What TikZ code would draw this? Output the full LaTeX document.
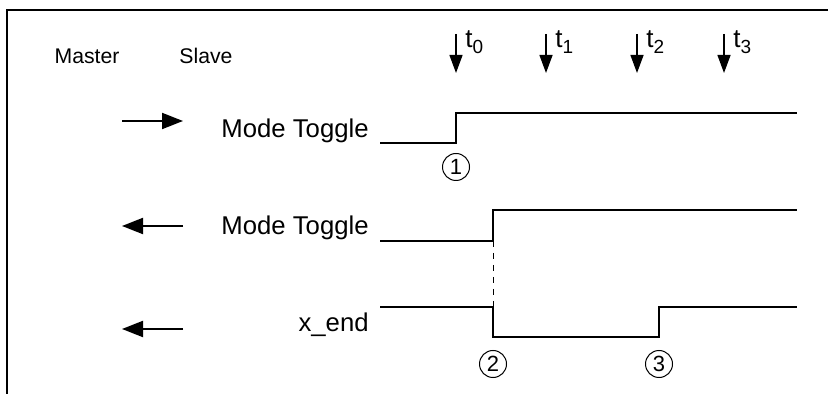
\documentclass[tikz,border=0pt]{standalone}
\usepackage{fontspec}
\setmainfont{Liberation Sans}
\usetikzlibrary{arrows.meta}

\tikzset{
    signal/.style={line width=1.35pt},
    dirarrow/.style={line width=1pt, -{Triangle[length=10.5pt, width=8pt]}},
    timearrow/.style={line width=0.65pt, -{Triangle[length=9pt, width=6.5pt]}},
    marker/.style={circle, draw, line width=0.5pt, minimum size=13.5pt, inner sep=0pt, font=\fontsize{11}{13}\selectfont},
    siglabel/.style={anchor=base east, inner sep=0pt, font=\fontsize{12.85}{15}\selectfont}
}

\begin{document}
\begin{tikzpicture}[x=0.5pt, y=-0.5pt]
    \useasboundingbox (0,0) rectangle (828,394);
    \draw[line width=0.65pt] (7,394) -- (7,10) -- (828,10);

    \node[font=\fontsize{10.6}{12}\selectfont] (master) at (87,56) {Master};
    \node[font=\fontsize{10.6}{12}\selectfont] (slave) at (206,56) {Slave};

    \foreach \i/\x in {0/456, 1/546, 2/637, 3/724} {
        \coordinate (ttop\i) at (\x,34);
        \coordinate (tbot\i) at (\x,73);
        \draw[timearrow] (ttop\i) -- (tbot\i);
        \node[anchor=base west, inner sep=0pt, font=\fontsize{13}{15}\selectfont] (tlab\i) at (\x+9,48) {t\raisebox{-3pt}{\fontsize{9.5}{11}\selectfont\i}};
    }

    \coordinate (ma1) at (122,121); \coordinate (sl1) at (183,121);
    \coordinate (ma2) at (122,226); \coordinate (sl2) at (183,226);
    \coordinate (ma3) at (122,329); \coordinate (sl3) at (183,329);
    \draw[dirarrow] (ma1) -- (sl1);
    \draw[dirarrow] (sl2) -- (ma2);
    \draw[dirarrow] (sl3) -- (ma3);

    \node[siglabel] (modeout) at (369,138) {Mode Toggle};
    \node[siglabel] (modein) at (369,235) {Mode Toggle};
    \node[siglabel] (xend) at (369,332) {x\_end};

    \coordinate (mo0) at (380,143); \coordinate (mo1) at (456,143);
    \coordinate (mo2) at (456,113); \coordinate (mo3) at (797,113);
    \draw[signal] (mo0) -- (mo1) -- (mo2) -- (mo3);

    \coordinate (mi0) at (380,241); \coordinate (mi1) at (493,241);
    \coordinate (mi2) at (493,210); \coordinate (mi3) at (797,210);
    \draw[signal] (mi0) -- (mi1) -- (mi2) -- (mi3);

    \coordinate (xe0) at (380,307); \coordinate (xe1) at (493,307);
    \coordinate (xe2) at (493,337); \coordinate (xe3) at (659,337);
    \coordinate (xe4) at (659,307); \coordinate (xe5) at (797,307);
    \draw[signal] (xe0) -- (xe1) -- (xe2) -- (xe3) -- (xe4) -- (xe5);

    \draw[dashed, line width=0.4pt] (mi1) -- (xe1);

    \node[marker] (m1) at (456,167) {1};
    \node[marker] (m2) at (493,364) {2};
    \node[marker] (m3) at (659,364) {3};
\end{tikzpicture}
\end{document}
